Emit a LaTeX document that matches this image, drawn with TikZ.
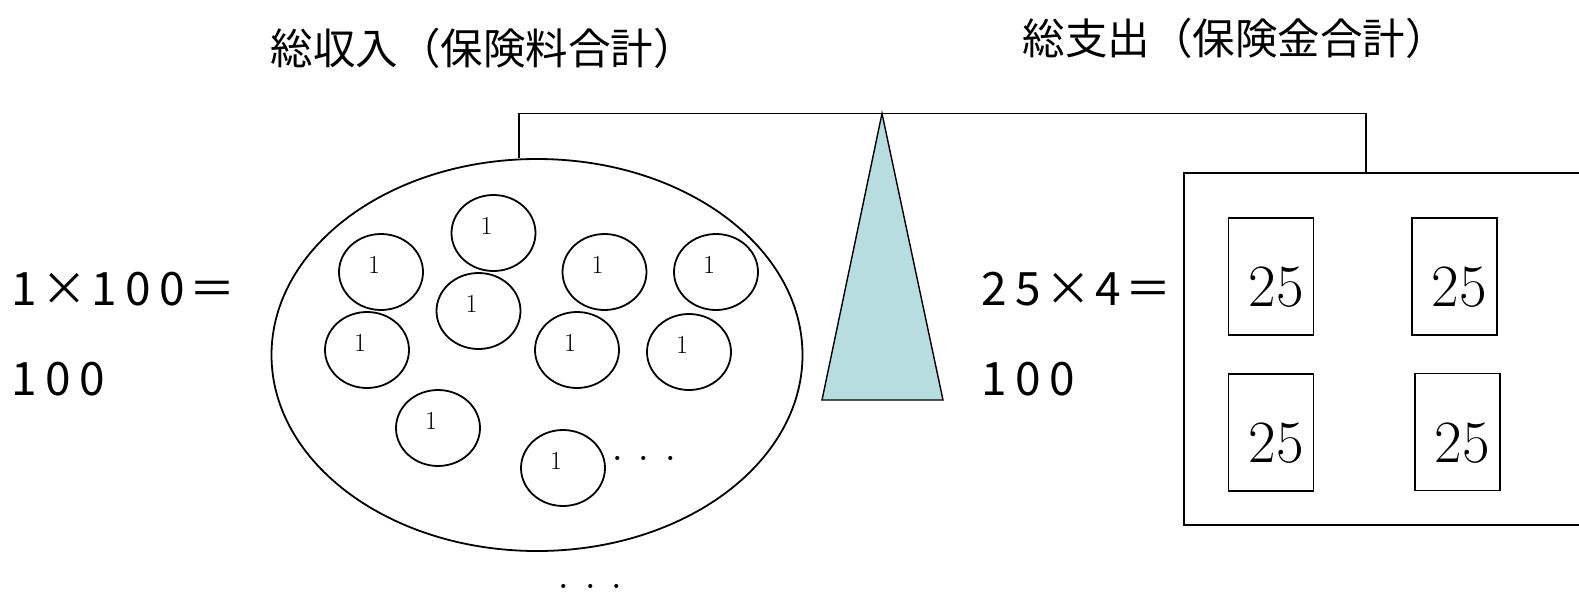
\documentclass[tikz,border=0pt]{standalone}
\usepackage{fontspec}
\newfontfamily\jp{Noto Sans CJK JP}
\usetikzlibrary{shapes.geometric}
\definecolor{fulcrum}{HTML}{B7DDE0}
\newcommand\dg[1]{\makebox[34pt]{#1}}
\newcommand\tms{\makebox[46pt]{×}}
\newcommand\dotrow{\makebox[26.5pt]{.}\makebox[26.5pt]{.}\makebox[26.5pt]{.}}
\begin{document}
\begin{tikzpicture}[x=1pt,y=-1pt,
  coin/.style={ellipse, draw, line width=1.8pt, minimum width=84pt, minimum height=76pt, inner sep=0pt},
  coinlbl/.style={font=\fontsize{26}{26}\selectfont, inner sep=0pt},
  claim/.style={draw, line width=1.5pt, minimum width=85pt, minimum height=117pt, inner sep=0pt},
  claimlbl/.style={font=\fontsize{60}{60}\selectfont, inner sep=0pt},
  title/.style={font=\jp\fontsize{42.5}{42.5}\selectfont, inner sep=0pt},
  eq/.style={font=\jp\fontsize{46}{46}\selectfont, inner sep=0pt, anchor=west},
  dots/.style={font=\fontsize{50}{50}\selectfont, inner sep=0pt},
  beam/.style={line width=1.4pt}]
\useasboundingbox (0,0) rectangle (1579,592);

% titles
\node[title] (t1) at (483,48.5) {総収入（保険料合計）};
\node[title] (t2) at (1235,38) {総支出（保険金合計）};

% equations
\node[eq] (e1) at (7,289) {\dg{1}\tms\dg{1}\dg{0}\dg{0}＝};
\node[eq] (e2) at (7,378.6) {\dg{1}\dg{0}\dg{0}};
\node[eq] (e3) at (977,289) {\dg{2}\dg{5}\tms\dg{4}＝};
\node[eq] (e4) at (977,378.6) {\dg{1}\dg{0}\dg{0}};

% pool of premiums
\node[ellipse, draw, line width=1.8pt, minimum width=531pt, minimum height=392pt, inner sep=0pt] (pool) at (537,355) {};
\foreach \n/\x/\y in {1/493.5/233, 2/381/272, 3/478.5/311, 4/604.5/272, 5/716/272,
                      6/367/350, 7/577/350, 8/689/352, 9/438/428, 10/563/468}{
  \node[coin] (c\n) at (\x,\y) {};
  \node[coinlbl] (c\n l) at ([shift={(-7,-7)}]c\n.center) {1};
}
\node[dots] (d1) at (644,458) {\dotrow};
\node[dots] (d2) at (590.5,586) {\dotrow};

% fulcrum
\coordinate (apex) at (882,113.5);
\coordinate (bl) at (822,400);
\coordinate (br) at (943,400);
\filldraw[fill=fulcrum, line width=1.4pt, line join=miter] (apex) -- (br) -- (bl) -- cycle;

% claims box
\coordinate (boxtl) at (1184,173);
\coordinate (boxbl) at (1184,525);
\coordinate (boxtr) at (1579,173);
\coordinate (boxbr) at (1579,525);
\draw[line width=1.5pt] (boxtr) -- (boxtl) -- (boxbl) -- (boxbr);

\node[claim] (q1) at (1271,276.5) {};
\node[claim] (q2) at (1454.5,276.5) {};
\node[claim] (q3) at (1271,432.5) {};
\node[claim] (q4) at (1457.5,432) {};
\foreach \q in {1,2,3,4}{
  \node[claimlbl] (q\q l) at ([shift={(5,11)}]q\q.center) {25};
}

% beam
\coordinate (lh) at (519,113.5);
\coordinate (rh) at (1366,113.5);
\draw[beam] (lh |- pool.north) -- (lh) -- (rh) -- (rh |- boxtl);
\end{tikzpicture}
\end{document}
